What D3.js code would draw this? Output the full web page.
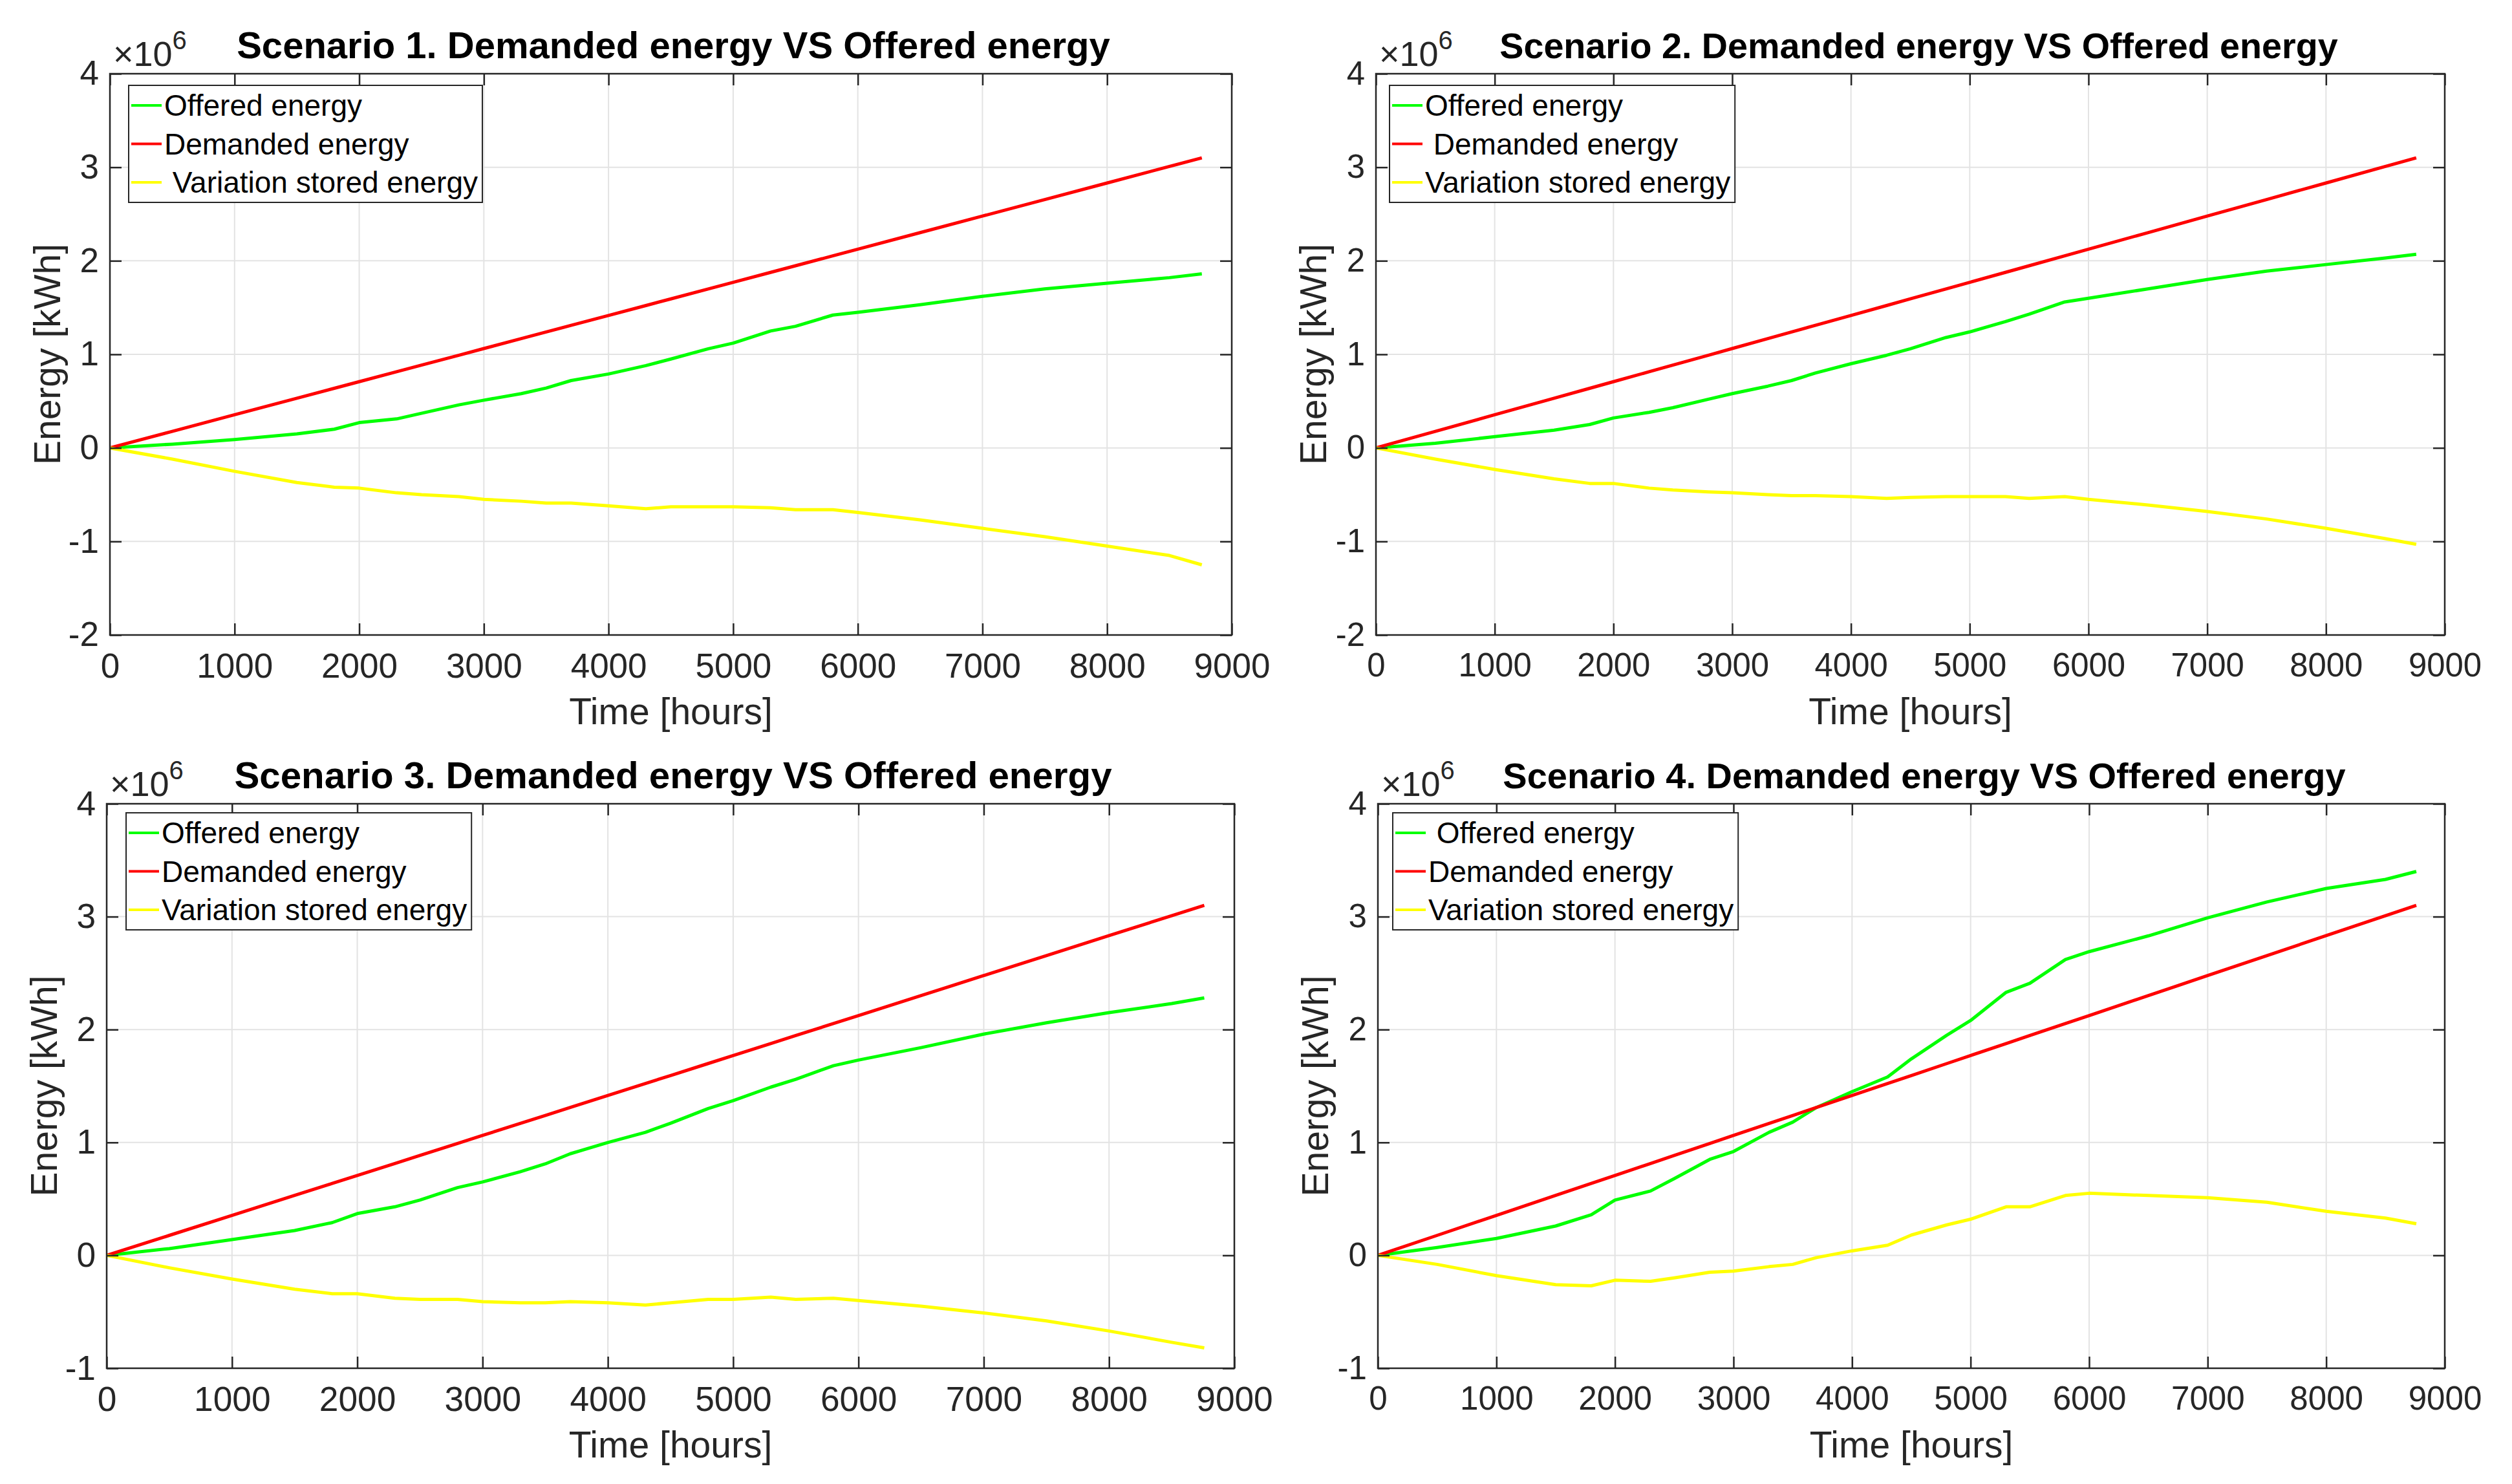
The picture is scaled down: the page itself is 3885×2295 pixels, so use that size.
<!DOCTYPE html>
<html>
<head>
<meta charset="utf-8">
<script src="https://cdn.jsdelivr.net/npm/d3@7"></script>
<style>
  html, body { margin: 0; padding: 0; background: #fff; }
  svg { display: block; font-family: "Liberation Sans", Arial, Helvetica, sans-serif; }
  .leg text { white-space: pre; }
</style>
</head>
<body>
<div id="chart"></div>
<script>
var hours = [0, 500, 1000, 1500, 1800, 2000, 2300, 2500, 2800, 3000, 3300, 3500, 3700, 4000,
  4300, 4500, 4800, 5000, 5300, 5500, 5800, 6000, 6500, 7000, 7500, 8000, 8500, 8760];

// values in units of 10^6 kWh
var demanded = [0, 0.177, 0.354, 0.531, 0.637, 0.708, 0.814, 0.885, 0.991, 1.062, 1.168, 1.239, 1.310, 1.416,
  1.522, 1.593, 1.699, 1.770, 1.876, 1.947, 2.053, 2.124, 2.301, 2.478, 2.655, 2.832, 3.009, 3.100];

var offered1 = [0, 0.04, 0.09, 0.15, 0.20, 0.27, 0.31, 0.37, 0.46, 0.51, 0.58, 0.64, 0.72, 0.79,
  0.88, 0.95, 1.06, 1.12, 1.25, 1.30, 1.42, 1.45, 1.53, 1.62, 1.70, 1.76, 1.82, 1.86];
var stored1 = [0, -0.12, -0.25, -0.37, -0.42, -0.43, -0.48, -0.50, -0.52, -0.55, -0.57, -0.59, -0.59, -0.62,
  -0.65, -0.63, -0.63, -0.63, -0.64, -0.66, -0.66, -0.69, -0.77, -0.86, -0.95, -1.05, -1.15, -1.25];

var offered2 = [0, 0.05, 0.12, 0.19, 0.25, 0.32, 0.38, 0.43, 0.52, 0.58, 0.66, 0.72, 0.80, 0.90,
  0.99, 1.06, 1.18, 1.24, 1.35, 1.43, 1.56, 1.60, 1.70, 1.80, 1.89, 1.96, 2.03, 2.07];
var stored2 = [0, -0.12, -0.23, -0.33, -0.38, -0.38, -0.43, -0.45, -0.47, -0.48, -0.50, -0.51, -0.51, -0.52,
  -0.54, -0.53, -0.52, -0.52, -0.52, -0.54, -0.52, -0.55, -0.61, -0.68, -0.76, -0.86, -0.97, -1.03];

var offered3 = [0, 0.06, 0.14, 0.22, 0.29, 0.37, 0.43, 0.49, 0.60, 0.65, 0.74, 0.81, 0.90, 1.00,
  1.09, 1.17, 1.30, 1.37, 1.49, 1.56, 1.68, 1.73, 1.84, 1.96, 2.06, 2.15, 2.23, 2.28];
var stored3 = [0, -0.11, -0.21, -0.30, -0.34, -0.34, -0.38, -0.39, -0.39, -0.41, -0.42, -0.42, -0.41, -0.42,
  -0.44, -0.42, -0.39, -0.39, -0.37, -0.39, -0.38, -0.40, -0.45, -0.51, -0.58, -0.67, -0.77, -0.82];

var offered4 = [0, 0.07, 0.15, 0.26, 0.36, 0.49, 0.57, 0.68, 0.85, 0.92, 1.09, 1.18, 1.31, 1.45,
  1.58, 1.74, 1.95, 2.08, 2.33, 2.41, 2.62, 2.69, 2.83, 2.99, 3.13, 3.25, 3.33, 3.40];
var stored4 = [0, -0.08, -0.18, -0.26, -0.27, -0.22, -0.23, -0.20, -0.15, -0.14, -0.10, -0.08, -0.02, 0.04,
  0.09, 0.18, 0.27, 0.32, 0.43, 0.43, 0.53, 0.55, 0.53, 0.51, 0.47, 0.39, 0.33, 0.28];

var titles = [
  'Scenario 1. Demanded energy VS Offered energy',
  'Scenario 2. Demanded energy VS Offered energy',
  'Scenario 3. Demanded energy VS Offered energy',
  'Scenario 4. Demanded energy VS Offered energy'
];
var legendLabels = [
  ['Offered energy', 'Demanded energy', ' Variation stored energy'],
  ['Offered energy', ' Demanded energy', 'Variation stored energy'],
  ['Offered energy', 'Demanded energy', 'Variation stored energy'],
  [' Offered energy', 'Demanded energy', 'Variation stored energy']
];
var xTicks = [0, 1000, 2000, 3000, 4000, 5000, 6000, 7000, 8000, 9000];
var yTicksTop = [-2, -1, 0, 1, 2, 3, 4];
var yTicksBottom = [-1, 0, 1, 2, 3, 4];

var W = 3885, H = 2295;
var colors = ['#00ff00', '#ff0000', '#ffff00'];

// right-hand panels are a touch narrower in the original, fonts too
var panels = [
  {l: 170, t: 114, r: 1905, b: 982, yt: yTicksTop, off: offered1, st: stored1, lx: 29, ly: 18, fs: 1, tx: 4},
  {l: 2128, t: 114, r: 3781, b: 982, yt: yTicksTop, off: offered2, st: stored2, lx: 21, ly: 18, fs: 0.96, tx: 13},
  {l: 165, t: 1243, r: 1909, b: 2116, yt: yTicksBottom, off: offered3, st: stored3, lx: 30, ly: 14, fs: 1.005, tx: 4},
  {l: 2131, t: 1243, r: 3781, b: 2116, yt: yTicksBottom, off: offered4, st: stored4, lx: 23, ly: 14, fs: 0.965, tx: 20}
];

var svg = d3.select('#chart').append('svg')
  .attr('width', W)
  .attr('height', H);

panels.forEach(function(p, i) {
  var x = d3.scaleLinear().domain([0, 9000]).range([p.l, p.r]);
  var y = d3.scaleLinear().domain([p.yt[0], 4]).range([p.b, p.t]);
  var g = svg.append('g');

  // grid
  g.append('g').selectAll('line.gx').data(xTicks.slice(1, -1)).enter().append('line')
    .attr('x1', function(d) { return x(d); }).attr('x2', function(d) { return x(d); })
    .attr('y1', p.t).attr('y2', p.b)
    .attr('stroke', '#e3e3e3').attr('stroke-width', 2);
  g.append('g').selectAll('line.gy').data(p.yt.slice(1, -1)).enter().append('line')
    .attr('x1', p.l).attr('x2', p.r)
    .attr('y1', function(d) { return y(d); }).attr('y2', function(d) { return y(d); })
    .attr('stroke', '#e3e3e3').attr('stroke-width', 2);

  // series
  var series = [p.off, demanded, p.st];
  var line = d3.line()
    .x(function(d, k) { return x(hours[k]); })
    .y(function(d) { return y(d); });
  series.forEach(function(s, k) {
    g.append('path')
      .attr('d', line(s))
      .attr('fill', 'none')
      .attr('stroke', colors[k])
      .attr('stroke-width', 5)
      .attr('stroke-linejoin', 'round');
  });

  // axes
  var axB = g.append('g').attr('transform', 'translate(0,' + p.b + ')')
    .call(d3.axisBottom(x).tickValues(xTicks).tickSize(-18).tickPadding(28).tickFormat(function(d) { return String(d); }));
  var axT = g.append('g').attr('transform', 'translate(0,' + p.t + ')')
    .call(d3.axisTop(x).tickValues(xTicks).tickSize(-18).tickFormat(''));
  var axL = g.append('g').attr('transform', 'translate(' + p.l + ',0)')
    .call(d3.axisLeft(y).tickValues(p.yt).tickSize(-18).tickPadding(17).tickFormat(function(d) { return String(d); }));
  var axR = g.append('g').attr('transform', 'translate(' + p.r + ',0)')
    .call(d3.axisRight(y).tickValues(p.yt).tickSize(-18).tickFormat(''));
  [axB, axT, axL, axR].forEach(function(a) {
    a.select('.domain').remove();
    a.selectAll('.tick line').attr('stroke', '#262626').attr('stroke-width', 2.5);
    a.selectAll('.tick text').attr('fill', '#262626').style('font-size', (53 * p.fs) + 'px')
      .style('font-family', '"Liberation Sans", Arial, sans-serif');
  });

  g.append('rect')
    .attr('x', p.l).attr('y', p.t)
    .attr('width', p.r - p.l).attr('height', p.b - p.t)
    .attr('fill', 'none').attr('stroke', '#262626').attr('stroke-width', 2.5);

  // exponent
  var ex = g.append('text')
    .attr('x', p.l + 5).attr('y', p.t - 12)
    .attr('fill', '#262626').style('font-size', '54px');
  ex.append('tspan').text('\u00d710');
  ex.append('tspan').attr('dy', -26).style('font-size', '40px').text('6');

  // title
  g.append('text')
    .attr('x', (p.l + p.r) / 2 + p.tx).attr('y', p.t - 24)
    .attr('text-anchor', 'middle')
    .style('font-size', (58 * p.fs) + 'px').style('font-weight', 'bold')
    .text(titles[i]);

  // axis labels
  g.append('text')
    .attr('x', (p.l + p.r) / 2).attr('y', p.b + 138)
    .attr('text-anchor', 'middle').attr('fill', '#262626')
    .style('font-size', '57px')
    .text('Time [hours]');
  g.append('text')
    .attr('transform', 'translate(' + (p.l - 77) + ',' + (p.t + p.b) / 2 + ') rotate(-90)')
    .attr('text-anchor', 'middle').attr('fill', '#262626')
    .style('font-size', '57px')
    .text('Energy [kWh]');

  // legend
  var lx = p.l + p.lx, ly = p.t + p.ly;
  var leg = g.append('g').attr('class', 'leg');
  var box = leg.append('rect')
    .attr('x', lx).attr('y', ly).attr('height', 181)
    .attr('fill', '#fff').attr('stroke', '#262626').attr('stroke-width', 2);
  var maxW = 0;
  legendLabels[i].forEach(function(lab, k) {
    var cy = ly + 31 + k * 59.5;
    leg.append('line')
      .attr('x1', lx + 4).attr('x2', lx + 51)
      .attr('y1', cy).attr('y2', cy)
      .attr('stroke', colors[k]).attr('stroke-width', 4);
    var t = leg.append('text')
      .attr('x', lx + 55).attr('y', cy).attr('dy', '0.35em')
      .attr('xml:space', 'preserve')
      .style('font-size', '46px')
      .text(lab);
    maxW = Math.max(maxW, t.node().getComputedTextLength());
  });
  box.attr('width', 55 + maxW + 7);
});
</script>
</body>
</html>
